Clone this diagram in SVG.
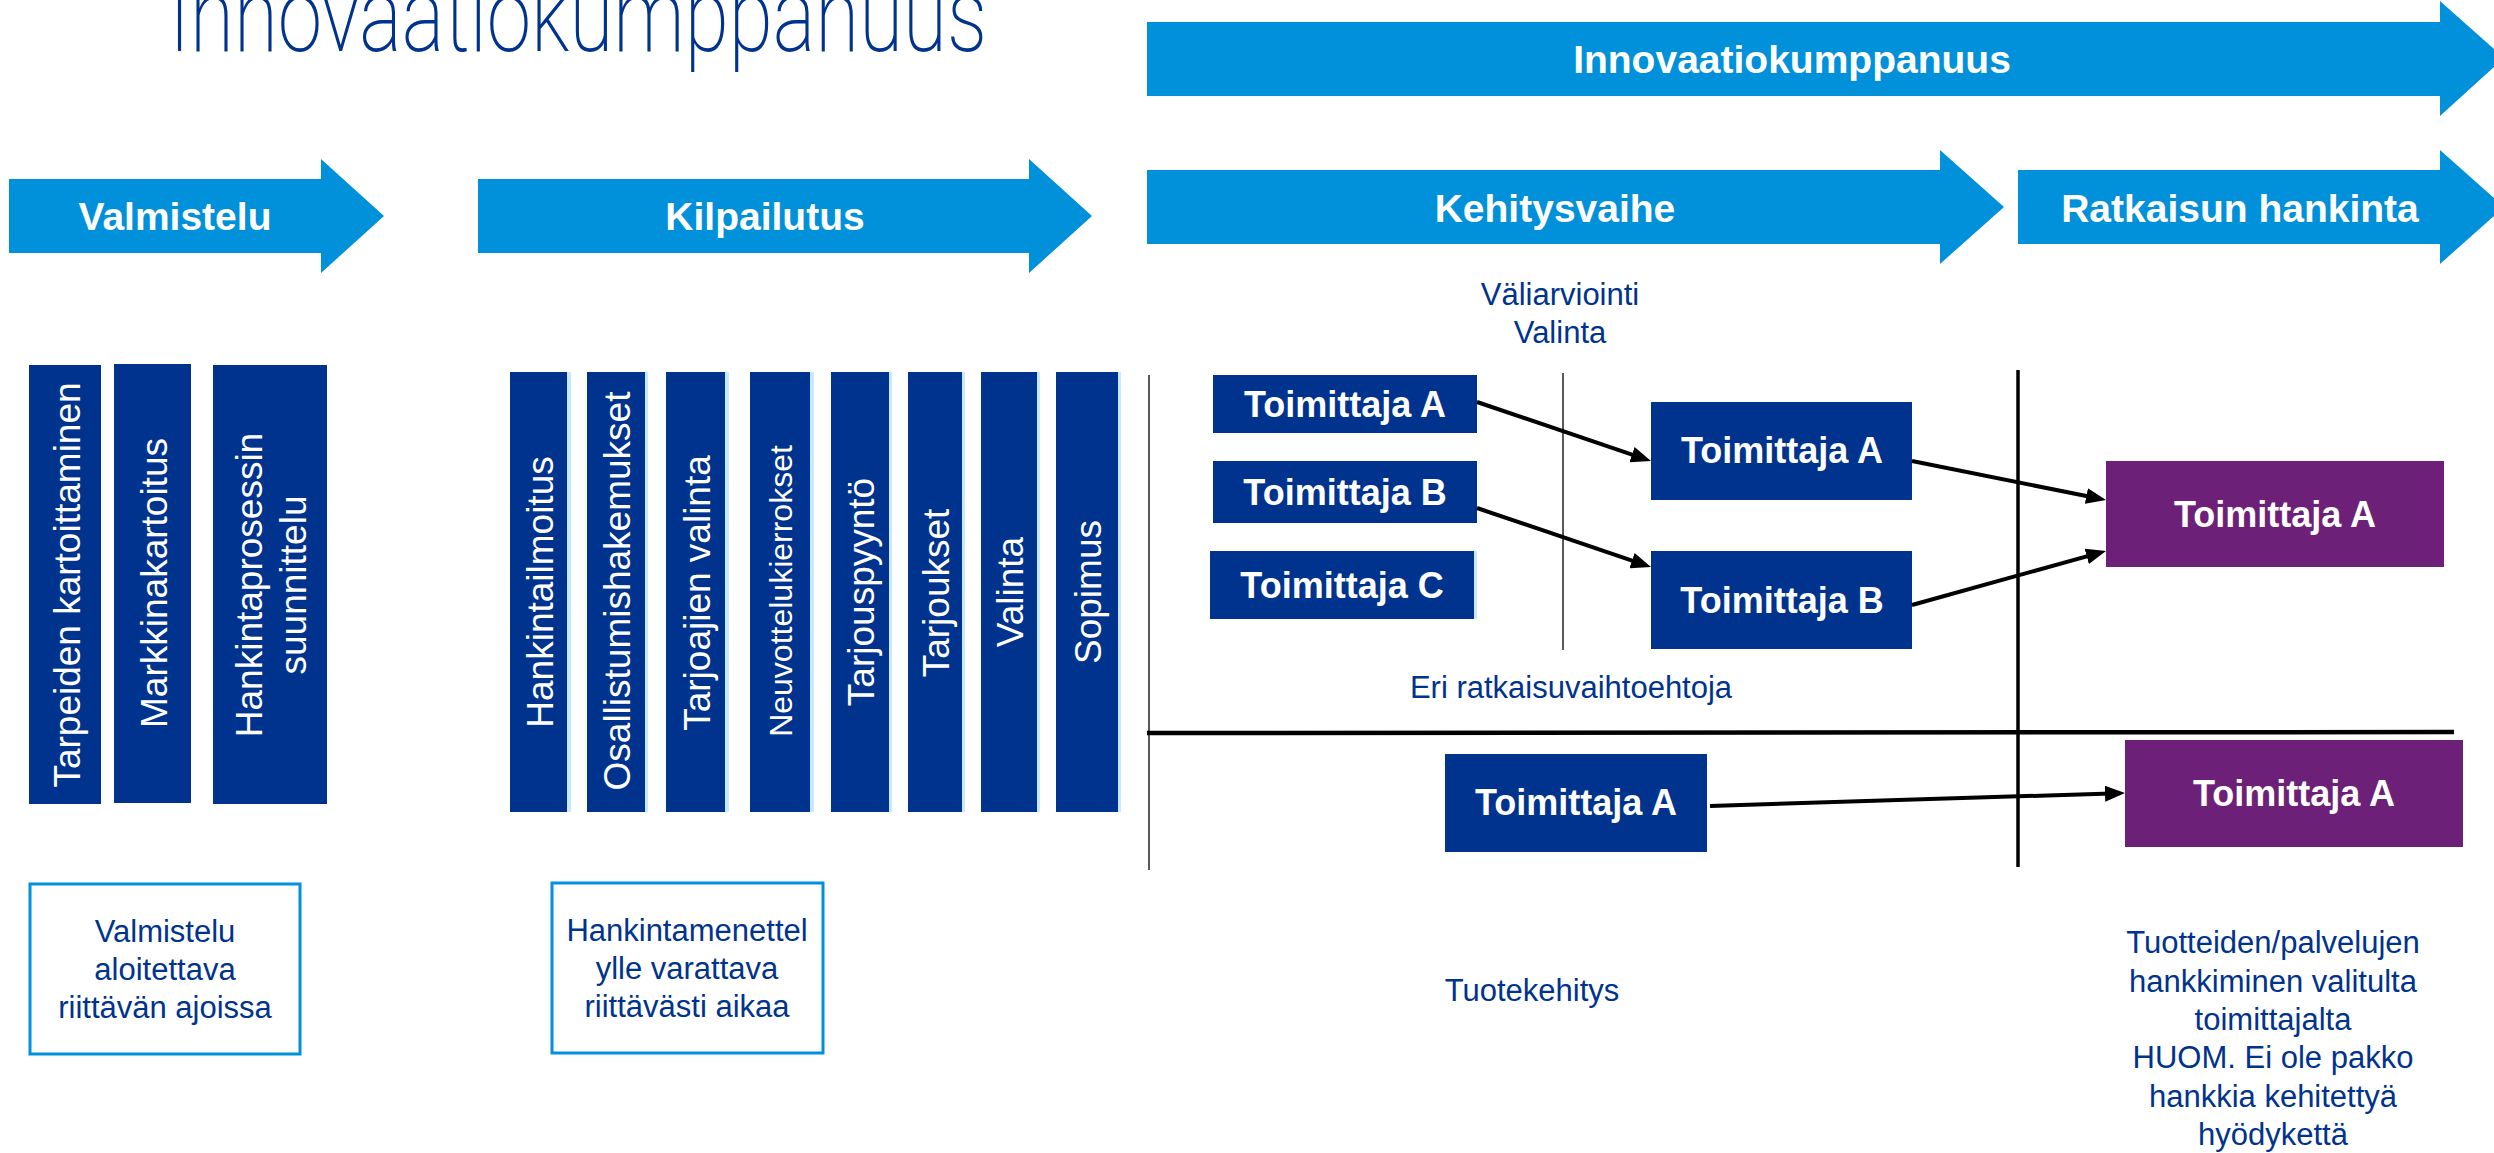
<svg xmlns="http://www.w3.org/2000/svg" width="2494" height="1153" viewBox="0 0 2494 1153">
<style>
.arrow{fill:#0091DA}
.alab{font-family:"Liberation Sans",Arial,sans-serif;font-weight:bold;font-size:39px;fill:#fff;text-anchor:middle}
.bar{fill:#00338D}
.strip{fill:#C8E9FA}
.vt{font-family:"Liberation Sans",Arial,sans-serif;font-size:37px;fill:#fff;text-anchor:middle}
.box{fill:#00338D}
.pbox{fill:#6D2077}
.bt{font-family:"Liberation Sans",Arial,sans-serif;font-weight:bold;font-size:36px;fill:#fff;text-anchor:middle}
.lab{font-family:"Liberation Sans",Arial,sans-serif;font-size:31px;fill:#00338D;text-anchor:middle}
.note{fill:#fff;stroke:#0091DA;stroke-width:3}
.thin{stroke:#222;stroke-width:1.5;fill:none}
.thick{stroke:#000;stroke-width:3.5;fill:none}
.conn{stroke:#000;stroke-width:4;fill:none;marker-end:url(#ah)}
</style>
<defs>
<marker id="ah" viewBox="0 0 20 16" refX="14" refY="8" markerWidth="20" markerHeight="16" markerUnits="userSpaceOnUse" orient="auto">
<path d="M0,0 L20,8 L0,16 z" fill="#000"/>
</marker>
</defs>
<rect width="2494" height="1153" fill="#fff"/>

<g id="title">
<text transform="translate(169,51) scale(1,0.92)" font-family="Roboto,'Liberation Sans',sans-serif" font-weight="200" font-size="112" fill="#00338D" textLength="818" lengthAdjust="spacingAndGlyphs">Innovaatiokumppanuus</text>
</g>

<g id="arrow-valmistelu">
<polygon class="arrow" points="9,179 321,179 321,159 384,216 321,273 321,253 9,253"/>
<text class="alab" x="175" y="230">Valmistelu</text>
</g>
<g id="arrow-kilpailutus">
<polygon class="arrow" points="478,179 1029,179 1029,159 1092,216 1029,273 1029,253 478,253"/>
<text class="alab" x="765" y="230">Kilpailutus</text>
</g>
<g id="arrow-innovaatiokumppanuus">
<polygon class="arrow" points="1147,22 2440,22 2440,1 2504,58 2440,116 2440,96 1147,96"/>
<text class="alab" x="1792" y="73">Innovaatiokumppanuus</text>
</g>
<g id="arrow-kehitysvaihe">
<polygon class="arrow" points="1147,170 1940,170 1940,150 2004,207 1940,264 1940,244 1147,244"/>
<text class="alab" x="1555" y="222">Kehitysvaihe</text>
</g>
<g id="arrow-ratkaisun-hankinta">
<polygon class="arrow" points="2018,170 2440,170 2440,150 2504,207 2440,264 2440,244 2018,244"/>
<text class="alab" x="2240" y="222">Ratkaisun hankinta</text>
</g>

<g id="bar-tarpeiden">
<rect class="bar" x="29" y="365" width="72" height="439"/>
<text class="vt" transform="translate(80,585) rotate(-90)">Tarpeiden kartoittaminen</text>
</g>
<g id="bar-markkinakartoitus">
<rect class="bar" x="114" y="364" width="77" height="439"/>
<text class="vt" transform="translate(167,583) rotate(-90)">Markkinakartoitus</text>
</g>
<g id="bar-hankintaprosessin">
<rect class="bar" x="213" y="365" width="114" height="439"/>
<text class="vt" transform="translate(262,585) rotate(-90)">Hankintaprosessin</text>
<text class="vt" transform="translate(306,585) rotate(-90)">suunnittelu</text>
</g>

<g id="bar-hankintailmoitus">
<rect class="bar" x="510" y="372" width="57" height="440"/>
<rect class="strip" x="567" y="372" width="4" height="440"/>
<text class="vt" transform="translate(553,592) rotate(-90)">Hankintailmoitus</text>
</g>
<g id="bar-osallistumishakemukset">
<rect class="bar" x="587" y="372" width="58" height="440"/>
<rect class="strip" x="645" y="372" width="3" height="440"/>
<text class="vt" transform="translate(630,591) rotate(-90)">Osallistumishakemukset</text>
</g>
<g id="bar-tarjoajien-valinta">
<rect class="bar" x="666" y="372" width="59" height="440"/>
<rect class="strip" x="725" y="372" width="4" height="440"/>
<text class="vt" transform="translate(710,593) rotate(-90)">Tarjoajien valinta</text>
</g>
<g id="bar-neuvottelukierrokset">
<rect class="bar" x="750" y="372" width="60" height="440"/>
<rect class="strip" x="810" y="372" width="4" height="440"/>
<text class="vt" style="font-size:32px" transform="translate(792,591) rotate(-90)">Neuvottelukierrokset</text>
</g>
<g id="bar-tarjouspyynto">
<rect class="bar" x="831" y="372" width="58" height="440"/>
<rect class="strip" x="889" y="372" width="3" height="440"/>
<text class="vt" transform="translate(874,592) rotate(-90)">Tarjouspyyntö</text>
</g>
<g id="bar-tarjoukset">
<rect class="bar" x="908" y="372" width="54" height="440"/>
<rect class="strip" x="962" y="372" width="3" height="440"/>
<text class="vt" transform="translate(949,593) rotate(-90)">Tarjoukset</text>
</g>
<g id="bar-valinta">
<rect class="bar" x="981" y="372" width="56" height="440"/>
<rect class="strip" x="1037" y="372" width="3" height="440"/>
<text class="vt" transform="translate(1023,592) rotate(-90)">Valinta</text>
</g>
<g id="bar-sopimus">
<rect class="bar" x="1056" y="372" width="62" height="440"/>
<rect class="strip" x="1118" y="372" width="3" height="440"/>
<text class="vt" transform="translate(1101,592) rotate(-90)">Sopimus</text>
</g>

<g id="note-valmistelu">
<rect class="note" x="30" y="884" width="270" height="170"/>
<text class="lab" x="165" y="942">Valmistelu</text>
<text class="lab" x="165" y="980">aloitettava</text>
<text class="lab" x="165" y="1018">riittävän ajoissa</text>
</g>
<g id="note-kilpailutus">
<rect class="note" x="552" y="883" width="271" height="170"/>
<text class="lab" x="687" y="941">Hankintamenettel</text>
<text class="lab" x="687" y="979">ylle varattava</text>
<text class="lab" x="687" y="1017">riittävästi aikaa</text>
</g>

<g id="label-valiarviointi">
<text class="lab" x="1560" y="305">Väliarviointi</text>
<text class="lab" x="1560" y="343">Valinta</text>
</g>
<g id="label-eri">
<text class="lab" x="1571" y="698">Eri ratkaisuvaihtoehtoja</text>
</g>
<g id="label-tuotekehitys">
<text class="lab" x="1532" y="1001">Tuotekehitys</text>
</g>
<g id="label-hankinta">
<text class="lab" x="2273" y="953">Tuotteiden/palvelujen</text>
<text class="lab" x="2273" y="992">hankkiminen valitulta</text>
<text class="lab" x="2273" y="1030">toimittajalta</text>
<text class="lab" x="2273" y="1068">HUOM. Ei ole pakko</text>
<text class="lab" x="2273" y="1107">hankkia kehitettyä</text>
<text class="lab" x="2273" y="1145">hyödykettä</text>
</g>

<g id="dividers">
<line class="thin" x1="1149" y1="375" x2="1149" y2="870"/>
<line class="thin" x1="1563" y1="373" x2="1563" y2="650"/>
<line class="thick" x1="2018" y1="370" x2="2018" y2="867"/>
<line x1="1147" y1="733" x2="2454" y2="732" stroke="#000" stroke-width="4.5"/>
</g>

<g id="node-a1">
<rect class="box" x="1213" y="375" width="264" height="58"/>
<text class="bt" x="1345" y="417">Toimittaja A</text>
</g>
<g id="node-b1">
<rect class="box" x="1213" y="461" width="264" height="62"/>
<text class="bt" x="1345" y="505">Toimittaja B</text>
</g>
<g id="node-c1">
<rect class="box" x="1210" y="551" width="264" height="68"/>
<rect class="strip" x="1474" y="551" width="3" height="68"/>
<text class="bt" x="1342" y="598">Toimittaja C</text>
</g>
<g id="node-a2">
<rect class="box" x="1651" y="402" width="261" height="98"/>
<text class="bt" x="1782" y="463">Toimittaja A</text>
</g>
<g id="node-b2">
<rect class="box" x="1651" y="551" width="261" height="98"/>
<text class="bt" x="1782" y="613">Toimittaja B</text>
</g>
<g id="node-a3">
<rect class="pbox" x="2106" y="461" width="338" height="106"/>
<text class="bt" x="2275" y="527">Toimittaja A</text>
</g>
<g id="node-a4">
<rect class="box" x="1445" y="754" width="262" height="98"/>
<text class="bt" x="1576" y="815">Toimittaja A</text>
</g>
<g id="node-a5">
<rect class="pbox" x="2125" y="740" width="338" height="107"/>
<text class="bt" x="2294" y="806">Toimittaja A</text>
</g>

<g id="connectors">
<path class="conn" d="M1477,402 L1645.3,459.1"/>
<path class="conn" d="M1477,508 L1645.3,565.1"/>
<path class="conn" d="M1912,461 L2100.1,498.8"/>
<path class="conn" d="M1912,605 L2100.2,552.6"/>
<path class="conn" d="M1710,806 L2119,793.2"/>
</g>
</svg>
